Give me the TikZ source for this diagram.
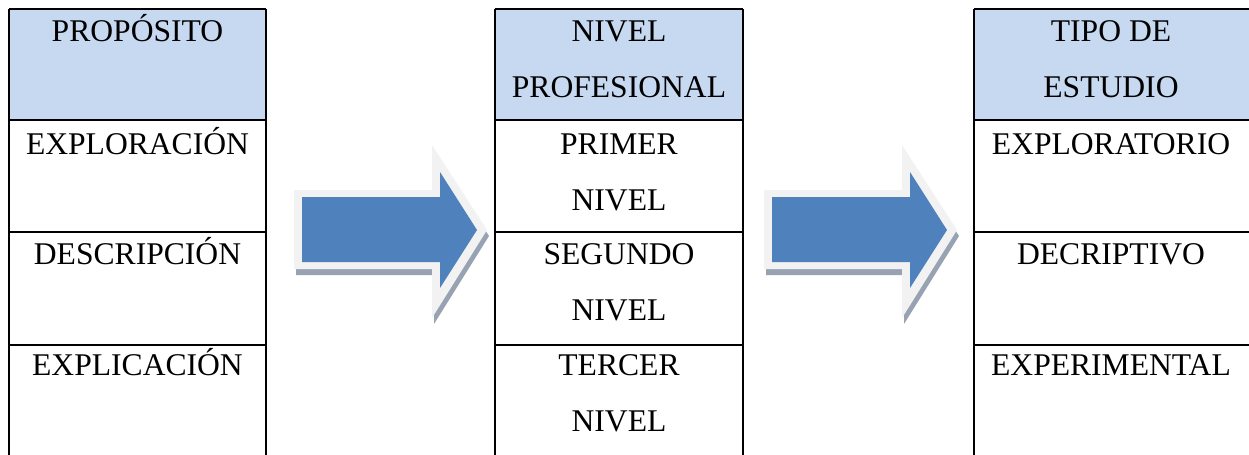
\documentclass[tikz,border=0pt]{standalone}
\usepackage{fontspec}
\setmainfont{Liberation Serif}
\definecolor{headfill}{HTML}{C6D9F1}
\definecolor{arrowblue}{HTML}{4F81BD}
\definecolor{arrowrim}{HTML}{F2F2F2}
\definecolor{arrowshade}{HTML}{97A3B3}
\begin{document}
\begin{tikzpicture}[x=0.5pt, y=-0.5pt, line width=1pt,
    every node/.style={inner sep=0pt, anchor=north, align=center, font=\fontsize{15.8}{28}\selectfont},
    rim/.style={fill=arrowrim}, shade/.style={fill=arrowshade}]
    \useasboundingbox (0,0) rectangle (1249,455);

    % Header cells
    \foreach \xa/\xb in {9/266, 495/743, 974/1249} {
        \fill[headfill] (\xa,9) rectangle (\xb,120);
    }

    % Table rules
    \foreach \xa/\xb in {9/266, 495/743, 974/1249} {
        \foreach \y in {9,120,232,345} {
            \draw (\xa,\y) -- (\xb,\y);
        }
        \draw (\xa,9) -- (\xa,455);
    }
    \draw (266,9) -- (266,455);
    \draw (743,9) -- (743,455);

    % Column 1
    \node (prop0) at (137.5,1) {\strut PROPÓSITO};
    \node (prop1) at (137.5,114) {\strut EXPLORACIÓN};
    \node (prop2) at (137.5,224) {\strut DESCRIPCIÓN};
    \node (prop3) at (137.5,335) {\strut EXPLICACIÓN};

    % Column 2
    \node (niv0) at (619,1) {\strut NIVEL\\PROFESIONAL};
    \node (niv1) at (619,114) {\strut PRIMER\\NIVEL};
    \node (niv2) at (619,224) {\strut SEGUNDO\\NIVEL};
    \node (niv3) at (619,335) {\strut TERCER\\NIVEL};

    % Column 3
    \node (tipo0) at (1111,1) {\strut TIPO DE\\ESTUDIO};
    \node (tipo1) at (1111,114) {\strut EXPLORATORIO};
    \node (tipo2) at (1111,224) {\strut DECRIPTIVO};
    \node (tipo3) at (1111,335) {\strut EXPERIMENTAL};

    % Block arrows
    \foreach \dx in {0,470} {
        \begin{scope}[shift={(\dx,0)}]
            \fill[shade, shift={(2,6)}] (294,190) -- (432,190) -- (432,145) -- (487,230) -- (432,318) -- (432,269) -- (294,269) -- cycle;
            \fill[rim] (294,190) -- (432,190) -- (432,145) -- (487,230) -- (432,318) -- (432,269) -- (294,269) -- cycle;
            \fill[arrowblue] (302,197) -- (440,197) -- (440,172) -- (477,230) -- (440,288) -- (440,262) -- (302,262) -- cycle;
        \end{scope}
    }
\end{tikzpicture}
\end{document}
